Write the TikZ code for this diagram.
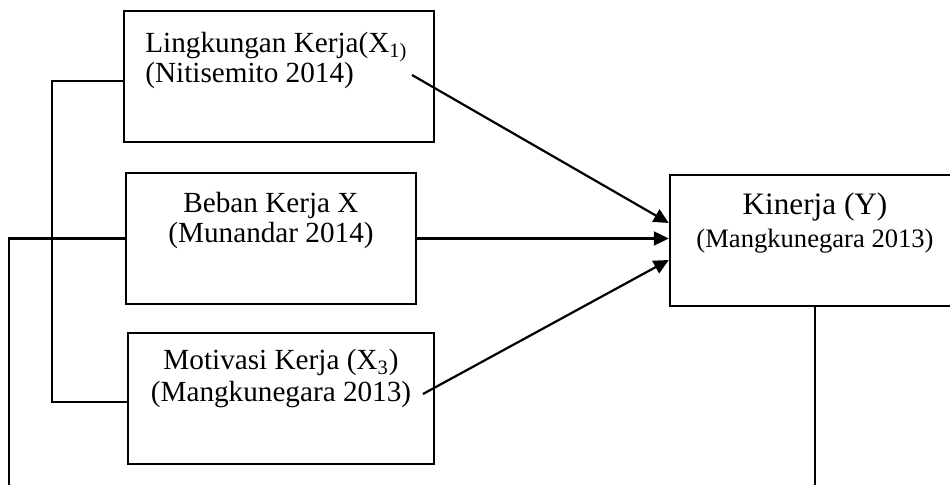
\documentclass[tikz,border=0pt]{standalone}
\usepackage{fontspec}
\setmainfont{Liberation Serif}
\usetikzlibrary{arrows.meta}
\begin{document}
\begin{tikzpicture}[x=0.5pt,y=-0.5pt,
  box/.style={draw,line width=1.2pt,rectangle,inner sep=0pt,minimum height=65.5pt},
  txt/.style={inner sep=0pt,font=\fontsize{14.6}{17}\selectfont},
  conn/.style={line width=1.1pt},
  arr/.style={conn,-{Triangle[length=7.5pt,width=7pt]}}]
\clip (0,0) rectangle (950,485);
% boxes
\node[box,minimum width=155pt] (b1) at (279,76.5) {};
\node[box,minimum width=145pt] (b2) at (271,238.5) {};
\node[box,minimum width=153pt] (b3) at (281,398.5) {};
\node[box,minimum width=145pt] (b4) at (815,240.5) {};
% texts
\node[txt,anchor=base west] (t1a) at (145,53) {Lingkungan Kerja(X\textsubscript{1)}};
\node[txt,anchor=base west] (t1b) at (145,83) {(Nitisemito 2014)};
\node[txt,anchor=base] (t2a) at (271,213) {Beban Kerja X};
\node[txt,anchor=base] (t2b) at (271,243) {(Munandar 2014)};
\node[txt,anchor=base] (t3a) at (281,370) {Motivasi Kerja (X\textsubscript{3})};
\node[txt,anchor=base] (t3b) at (281,402) {(Mangkunegara 2013)};
\node[txt,anchor=base,font=\fontsize{15.6}{18}\selectfont] (t4a) at (815,215) {Kinerja (Y)};
\node[txt,anchor=base,font=\fontsize{13.3}{16}\selectfont] (t4b) at (815,248) {(Mangkunegara 2013)};
% arrows
\coordinate (s1) at (412,75);
\coordinate (e1) at (b4.west |- 0,223);
\draw[arr] (s1) -- (e1);
\draw[arr] (b2.east) -- (b4.west |- b2.east);
\coordinate (s3) at (423,394);
\coordinate (e3) at (b4.west |- 0,260);
\draw[arr] (s3) -- (e3);
% left connectors
\coordinate (l1) at (52,81);
\coordinate (l3) at (52,402);
\draw[conn] (b1.west |- l1) -- (l1) -- (l3) -- (b3.west |- l3);
\coordinate (l2) at (9,485);
\draw[conn] (b2.west) -- (b2.west -| l2) -- (l2);
% bottom line
\coordinate (r) at (b4.south |- 0,485);
\draw[conn] (b4.south) -- (r);
\end{tikzpicture}
\end{document}
